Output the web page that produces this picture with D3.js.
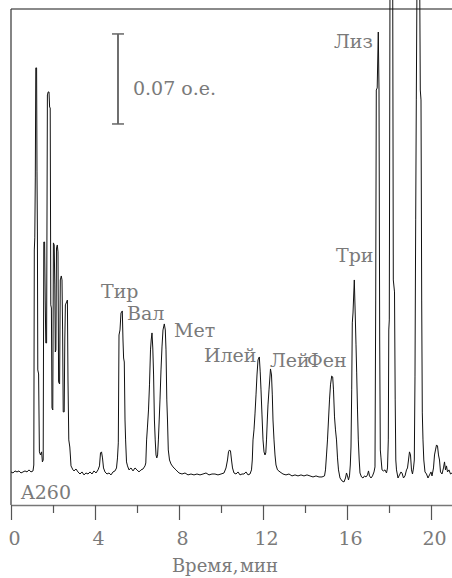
<!DOCTYPE html>
<html>
<head>
<meta charset="utf-8">
<script src="https://cdnjs.cloudflare.com/ajax/libs/d3/7.8.5/d3.min.js"></script>
<style>
body { margin: 0; background: #fff; }
svg { display: block; }
text { font-family: "DejaVu Serif", serif; fill: #7a7a7a; }
</style>
</head>
<body>
<div id="graph"></div>
<script>
var w = 452, h = 578

// [время, мин ; поглощение A260, 10^-3 о.е.]
var trace = [
  [0,0],[0.095,-0.8],[0.19,0.8],[0.286,0],[0.381,0.8],[0.476,-0.8],[0.571,0],[0.667,0.8],[0.762,0],[0.857,1.6],[0.952,0],[1.048,0.8],
  [1.086,5.4],[1.11,172.6],[1.133,182],[1.157,228.6],[1.181,314.2],[1.219,314.2],[1.238,233.3],[1.257,186.6],[1.276,79.3],[1.314,76.2],
  [1.352,15.6],[1.405,13.2],[1.457,15.6],[1.495,7.8],[1.533,9.3],[1.562,178.8],[1.6,178.8],[1.629,133.7],[1.657,100.3],[1.695,100.3],
  [1.733,293.2],[1.771,295.5],[1.81,295.5],[1.838,283.8],[1.867,283],[1.895,129.9],[1.924,127.5],[1.952,49.8],[1.99,48.2],[2.019,178.1],
  [2.057,176.5],[2.086,145.4],[2.11,93.3],[2.138,94.9],[2.167,174.2],[2.205,176.5],[2.238,171.1],[2.267,70],[2.314,68.4],[2.348,149.3],
  [2.395,152.4],[2.429,149.3],[2.457,110.4],[2.486,46.7],[2.533,46.7],[2.562,102.6],[2.59,129.9],[2.648,132.2],[2.686,133.7],[2.714,71.5],
  [2.752,24.9],[2.8,19.4],[2.829,12.4],[2.857,4.7],[2.905,3.1],[2.952,1.6],
  [3,0.8],[3.095,2.3],[3.19,0],[3.286,-1.6],[3.381,0],[3.476,-2.3],[3.571,-0.8],[3.667,-1.6],[3.762,0],[3.857,-1.6],[3.952,0.8],[4.048,-0.8],
  [4.143,1.6],[4.214,4.7],[4.262,14.8],[4.31,15.6],[4.357,10.9],[4.405,3.1],[4.476,0],[4.571,-1.6],[4.667,-0.8],[4.762,-2.3],[4.857,0],[4.952,0.8],
  [5.024,3.1],[5.071,10.9],[5.11,22.6],[5.143,106.5],[5.19,110.4],[5.238,123.6],[5.3,125.2],[5.333,102.6],[5.362,88.6],[5.395,85.5],
  [5.429,40.4],[5.457,24.9],[5.5,7.8],[5.548,4.7],[5.619,1.6],[5.714,3.1],[5.81,0.8],[5.905,3.1],[6,1.6],[6.095,0],[6.19,1.6],[6.286,2.3],[6.381,4.7],
  [6.419,7],[6.457,24.9],[6.495,34.2],[6.548,48.2],[6.595,67.7],[6.643,94.9],[6.676,102.6],[6.714,108.1],[6.752,96.4],[6.79,75.4],[6.829,40.4],
  [6.867,24.9],[6.905,13.2],[6.943,10.9],[6.981,13.2],[7.019,24.9],[7.057,40.4],[7.095,56],[7.143,79.3],[7.19,97.2],[7.238,110.4],[7.3,115.1],
  [7.348,110.4],[7.381,94.9],[7.419,56],[7.452,40.4],[7.49,17.1],[7.548,9.3],[7.619,6.2],[7.714,3.9],[7.857,1.6],[8,-0.8],[8.143,-1.6],
  [8.286,-0.8],[8.429,-2.3],[8.571,-1.6],[8.714,-2.3],[8.857,-1.6],[9,-2.3],[9.143,-1.6],[9.286,-0.8],[9.429,-2.3],[9.571,-1.6],[9.714,-1.6],
  [9.857,-2.3],[10,-1.6],[10.143,-0.8],[10.238,3.1],[10.31,9.3],[10.357,15.6],[10.405,17.1],[10.452,16.3],[10.5,9.3],[10.548,3.1],[10.619,-0.8],
  [10.714,-1.6],[10.81,0],[10.905,-2.3],[11,-1.6],[11.095,-1.6],[11.19,0],[11.286,-2.3],[11.381,-1.6],
  [11.452,1.6],[11.49,9.3],[11.524,24.9],[11.571,32.7],[11.619,45.1],[11.667,59.9],[11.714,75.4],[11.762,87.1],[11.824,89.4],[11.867,77.8],
  [11.905,63.8],[11.952,44.3],[12,24.9],[12.048,15.6],[12.095,13.2],[12.133,14.8],[12.167,24.9],[12.205,40.4],[12.238,52.1],[12.286,63.8],
  [12.357,80.1],[12.405,75.4],[12.443,59.9],[12.476,40.4],[12.524,24.9],[12.571,13.2],[12.619,5.4],[12.69,1.6],[12.81,0],[12.952,-1.6],
  [13.095,-2.3],[13.238,-1.6],[13.381,-3.1],[13.524,-2.3],[13.667,-3.1],[13.81,-2.3],[13.952,-3.1],[14.095,-2.3],[14.238,-3.1],[14.381,-3.9],
  [14.524,-3.1],[14.667,-3.9],[14.81,-3.9],[14.929,-3.1],
  [14.976,1.6],[15.024,13.2],[15.071,24.9],[15.119,40.4],[15.167,56],[15.214,67.7],[15.271,74.6],[15.319,73.9],[15.357,63.8],[15.405,42.8],
  [15.452,32.7],[15.5,24.9],[15.548,10.9],[15.595,1.6],[15.667,-4.7],[15.762,-7],[15.857,-7.8],[15.929,-4.7],[15.976,-0.8],[16.024,-3.1],
  [16.071,-6.2],[16.119,-3.1],
  [16.157,5.4],[16.19,19.4],[16.224,63.8],[16.252,115.9],[16.286,123.6],[16.348,149.3],[16.39,123.6],[16.429,98.8],[16.462,77],[16.5,48.2],
  [16.538,24.9],[16.581,9.3],[16.619,-0.8],[16.69,-3.9],[16.762,-4.7],[16.833,-3.1],[16.905,-3.9],[16.976,-2.3],[17.024,0.8],[17.071,-3.1],
  [17.143,-4.7],[17.214,-3.1],[17.286,0],
  [17.333,3.9],[17.367,133.7],[17.395,297],[17.438,298.6],[17.49,342.1],[17.524,297],[17.557,102.6],[17.586,17.1],[17.619,10.9],[17.667,1.6],
  [17.738,0.8],[17.81,1.6],[17.881,-0.8],[17.929,3.1],[17.967,24.9],[17.99,110.4],[18.014,118.2],[18.048,382.6],[18.081,398.1],[18.143,398.1],
  [18.176,382.6],[18.205,149.3],[18.262,140],[18.295,56],[18.324,9.3],[18.357,1.6],[18.429,-4.7],[18.5,-2.3],[18.571,0],[18.619,-0.8],
  [18.69,-4.7],[18.762,-3.1],[18.833,1.6],[18.881,3.1],[18.929,9.3],[18.976,15.6],[19.024,13.2],[19.071,1.6],[19.119,-1.6],[19.167,3.1],
  [19.205,9.3],[19.238,73.9],[19.271,196],[19.3,289.3],[19.333,382.6],[19.367,398.1],[19.429,398.1],[19.462,382.6],[19.49,297],[19.524,289.3],
  [19.557,133.7],[19.586,45.9],[19.619,24.9],[19.657,9.3],[19.714,0],[19.786,-1.6],[19.857,-4.7],[19.929,-2.3],[20,0],[20.048,-3.1],
  [20.119,3.1],[20.167,13.2],[20.214,17.1],[20.262,21],[20.31,20.2],[20.357,13.2],[20.405,9.3],[20.452,0],[20.524,-1.6],[20.595,3.1],
  [20.643,7.8],[20.69,1.6],[20.738,4.7],[20.786,0],[20.857,1.6],[20.929,-1.6],[21,-0.8]
]

var peakNames = ['Тир', 'Вал', 'Мет', 'Илей', 'Лей', 'Фен', 'Три', 'Лиз']
// где стоит подпись, в единицах графика
var labelT = [4.286, 5.524, 7.762, 9.19, 12.333, 14.095, 15.476, 15.381]
var labelA = [135.3, 118.2, 105, 85.5, 81.6, 81.6, 163.3, 329.7]

var majorTicks = [0, 4, 8, 12, 16, 20]
var minorTicks = [2, 6, 10, 14, 18]

var barT = 5.095
var barRange = [270.6, 340.6]   // 0.07 о.е.
var barText = '0.07 о.е.'

var x = d3.scaleLinear().domain([0, 21]).range([11, 452])
var y = d3.scaleLinear().domain([-25.7, 360]).range([505, 9])

var svg = d3.select('#graph').append('svg')
    .attr('width', w).attr('height', h)

// рамка
svg.append('line')
    .attr('x1', x(0)).attr('x2', x(21)).attr('y1', y(360)).attr('y2', y(360))
    .style('stroke', '#8a8a8a').style('stroke-width', 2)
svg.append('line')
    .attr('x1', x(0)).attr('x2', x(0)).attr('y1', y(360)).attr('y2', y(-25.7))
    .style('stroke', '#333').style('stroke-width', 1.2)

var major = svg.append('g')
    .attr('transform', 'translate(0,' + y(-25.7) + ')')
    .call(d3.axisBottom(x).tickValues(majorTicks).tickSize(15).tickSizeOuter(0).tickFormat(d3.format('d')))
major.select('.domain').style('stroke', '#777').style('stroke-width', 1.5)
major.selectAll('.tick line').style('stroke', '#555').style('stroke-width', 1.2)
major.selectAll('.tick text')
    .attr('y', 40).attr('dy', 0).attr('dx', 3)
    .style('font-size', '19px').style('font-family', '"DejaVu Serif", serif').style('fill', '#7a7a7a')

var minor = svg.append('g')
    .attr('transform', 'translate(0,' + y(-25.7) + ')')
    .call(d3.axisBottom(x).tickValues(minorTicks).tickSize(8).tickFormat(''))
minor.select('.domain').remove()
minor.selectAll('.tick line').style('stroke', '#555').style('stroke-width', 1.2)

svg.append('text')
    .attr('x', 225).attr('y', 572)
    .attr('text-anchor', 'middle')
    .style('font-size', '18px').style('word-spacing', '-4px')
    .text('Время, мин')

svg.append('text')
    .attr('x', 21).attr('y', 499)
    .style('font-size', '19px')
    .text('A260')

// хроматограмма
var line = d3.line()
    .x(function(d){ return x(d[0]) })
    .y(function(d){ return y(d[1]) })

svg.append('path')
    .attr('d', line(trace))
    .style('fill', 'none').style('stroke', '#111').style('stroke-width', 1)

// масштаб
svg.append('line')
    .attr('x1', x(barT)).attr('x2', x(barT)).attr('y1', y(barRange[0])).attr('y2', y(barRange[1]))
    .style('stroke', '#222').style('stroke-width', 1.3)
barRange.forEach(function(v){
  svg.append('line')
      .attr('x1', x(barT) - 6).attr('x2', x(barT) + 6).attr('y1', y(v)).attr('y2', y(v))
      .style('stroke', '#666').style('stroke-width', 1.5)
})
svg.append('text')
    .attr('x', x(barT) + 15).attr('y', y(barRange[0] + 0.4 * (barRange[1] - barRange[0])) + 7)
    .style('font-size', '19px')
    .text(barText)

svg.selectAll('text.peak').data(peakNames).enter().append('text')
    .attr('class', 'peak')
    .attr('x', function(d, i){ return x(labelT[i]) })
    .attr('y', function(d, i){ return y(labelA[i]) })
    .style('font-size', '19px')
    .text(function(d){ return d })
</script>
</body>
</html>
